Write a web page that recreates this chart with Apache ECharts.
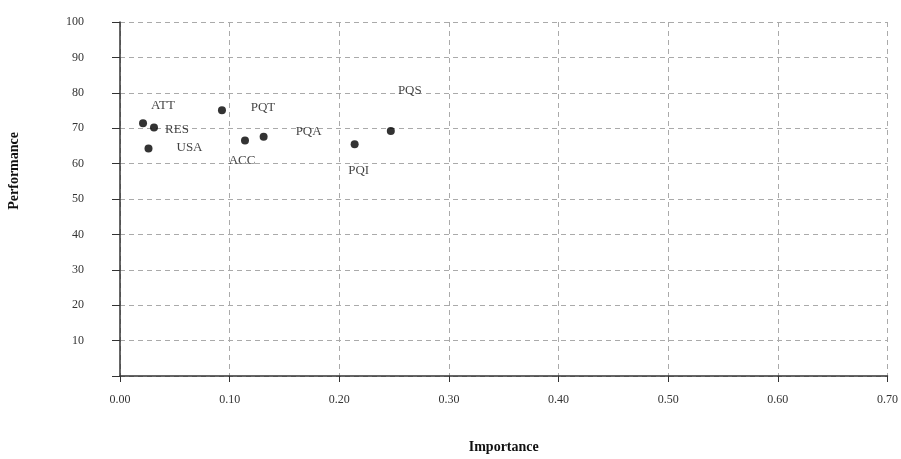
<!DOCTYPE html>
<html>
<head>
<meta charset="utf-8">
<script src="https://cdn.jsdelivr.net/npm/echarts@6/dist/echarts.min.js"></script>
<style>
  html,body{margin:0;padding:0;background:#fff;}
  #main{width:901px;height:459px;}
</style>
</head>
<body>
<div id="main"></div>
<script>
// data
var names = ['ATT','RES','USA','PQT','ACC','PQA','PQI','PQS'];
var importance = [0.021, 0.031, 0.026, 0.093, 0.114, 0.131, 0.214, 0.247];
var performance = [71.4, 70.2, 64.3, 75.1, 66.5, 67.6, 65.5, 69.2];
var yTicks = [10, 20, 30, 40, 50, 60, 70, 80, 90, 100];

// where each label sits relative to its dot (px)
var labelOffsets = [[20,-18],[23,2],[41,-1],[41,-3],[-3,20],[45,-5],[4,26],[19,-40]];

var chart = echarts.init(document.getElementById('main'));

var pts = [];
for(var i=0;i<names.length;i++){
  pts.push({
    value:[importance[i],performance[i]],
    name:names[i],
    label:{offset:labelOffsets[i]}
  });
}

var serif = '"Liberation Serif", "DejaVu Serif", serif';

var option = {
  animation:false,
  grid:{left:120,right:11,top:22,bottom:82},
  xAxis:{
    type:'value',
    min:0,max:0.7,interval:0.1,
    name:'Importance',
    nameLocation:'middle',
    nameGap:64,
    nameTextStyle:{fontFamily:serif,fontWeight:'bold',fontSize:14,color:'#111'},
    axisLine:{show:true,lineStyle:{color:'#333',width:1.5}},
    axisTick:{show:true,length:6,lineStyle:{color:'#333'}},
    axisLabel:{
      fontFamily:serif,fontSize:12,color:'#333',margin:18,
      formatter:function(v){return v.toFixed(2);}
    },
    splitLine:{show:true,lineStyle:{type:[5,4],color:'#aaa',width:1}}
  },
  yAxis:{
    type:'value',
    min:0,max:100,interval:10,
    axisLine:{show:true,lineStyle:{color:'#333',width:1.5}},
    axisTick:{show:true,length:8,lineStyle:{color:'#333'}},
    axisLabel:{
      fontFamily:serif,fontSize:12,color:'#333',margin:36,align:'right',
      formatter:function(v){return yTicks.indexOf(v)>=0 ? String(v) : '';}
    },
    splitLine:{show:true,lineStyle:{type:[5,4],color:'#aaa',width:1}}
  },
  graphic:[{
    type:'text',
    left:7,top:132,
    rotation:Math.PI/2,
    style:{text:'Performance',font:'bold 14px '+serif,fill:'#111'}
  }],
  series:[{
    type:'scatter',
    symbol:'circle',
    symbolSize:8,
    itemStyle:{color:'#000'},
    label:{
      show:true,
      position:'inside',
      formatter:'{b}',
      fontFamily:serif,
      fontSize:13,
      color:'#111'
    },
    data:pts
  }]
};

chart.setOption(option);
</script>
</body>
</html>
